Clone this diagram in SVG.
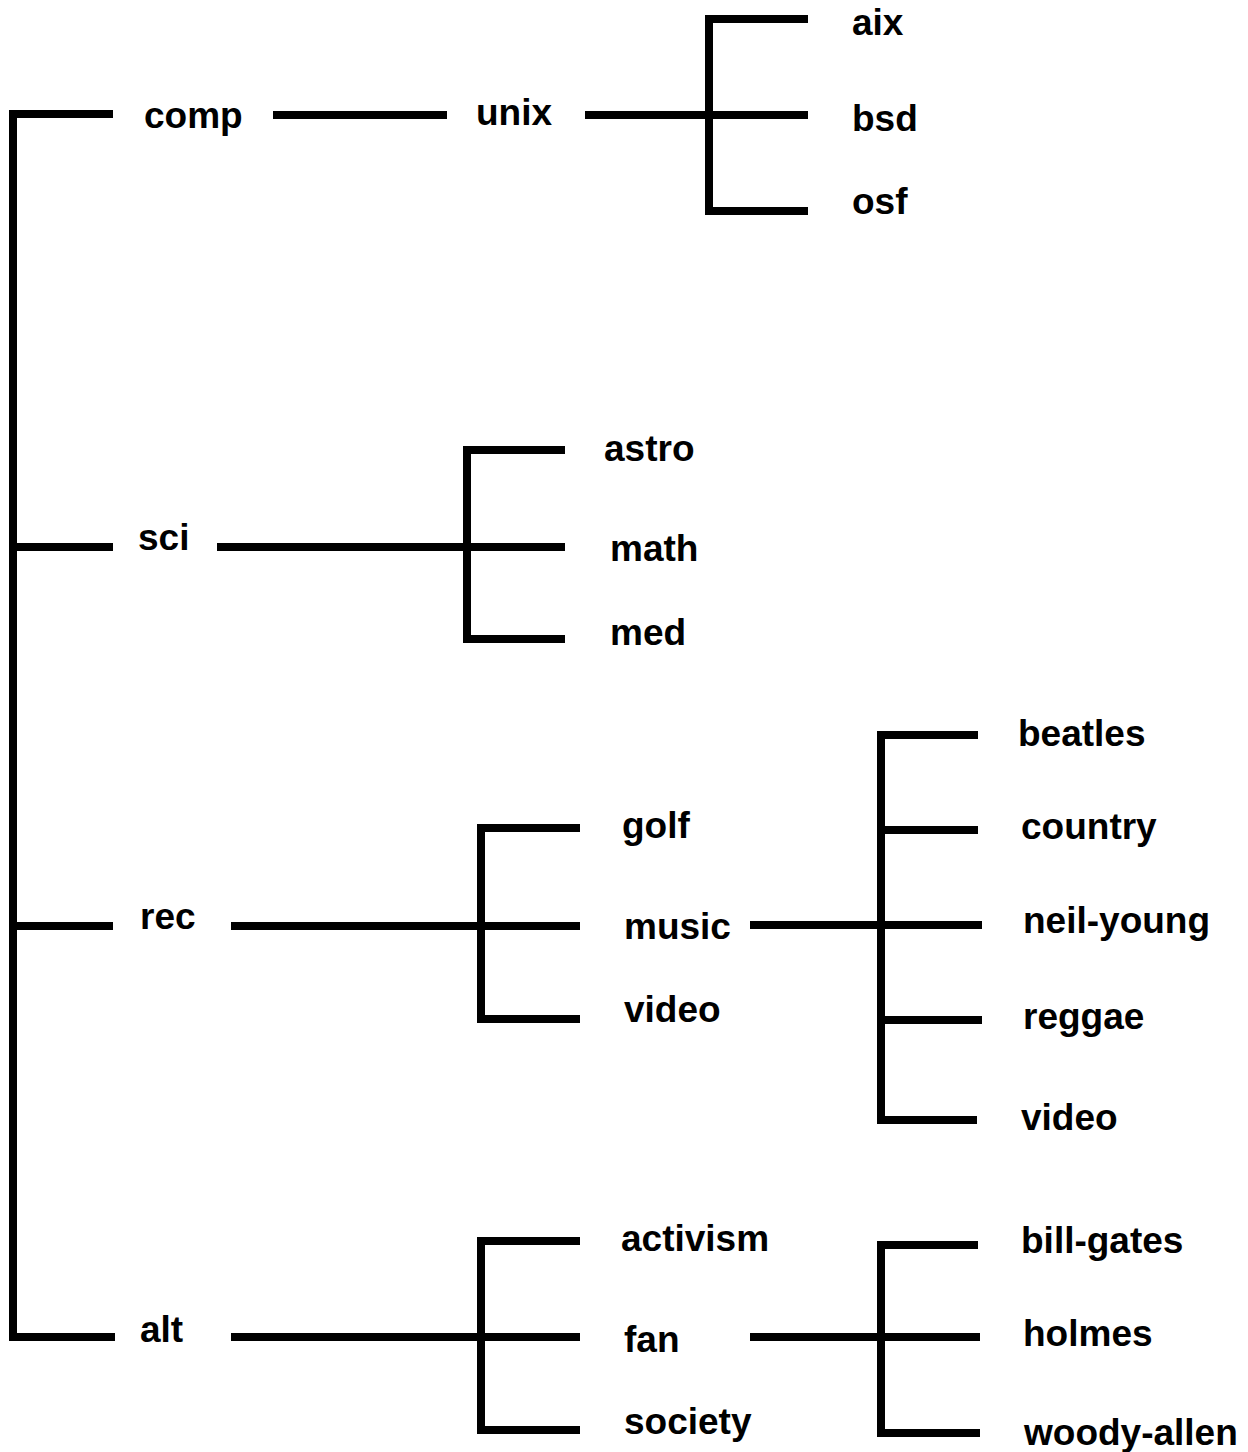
<svg xmlns="http://www.w3.org/2000/svg" width="1248" height="1452" viewBox="0 0 1248 1452">
<style>
.c{fill:none;stroke:#000;stroke-width:8;stroke-linejoin:miter;stroke-linecap:butt}
.t{font-family:"Liberation Sans",Arial,sans-serif;font-weight:bold;font-size:37px;fill:#000}
</style>
<rect width="1248" height="1452" fill="#fff"/>
<g id="connectors">
<path class="c" d="M113,114 H13 V1337 H115"/>
<path class="c" d="M13,547 H113"/>
<path class="c" d="M13,926 H113"/>
<path class="c" d="M273,115 H447"/>
<path class="c" d="M585,115 H808"/>
<path class="c" d="M808,19 H709 V211 H808"/>
<path class="c" d="M217,547 H565"/>
<path class="c" d="M565,450 H467 V639 H565"/>
<path class="c" d="M231,926 H580"/>
<path class="c" d="M580,828 H481 V1019 H580"/>
<path class="c" d="M750,925 H982"/>
<path class="c" d="M978,735 H881 V1120 H977"/>
<path class="c" d="M881,830 H978"/>
<path class="c" d="M881,1020 H982"/>
<path class="c" d="M231,1337 H580"/>
<path class="c" d="M580,1241 H481 V1430 H580"/>
<path class="c" d="M750,1337 H980"/>
<path class="c" d="M978,1245 H881 V1433 H980"/>
</g>
<g id="comp"><text class="t" x="144" y="128">comp</text></g>
<g id="unix"><text class="t" x="476" y="125">unix</text></g>
<g id="aix"><text class="t" x="852" y="35">aix</text></g>
<g id="bsd"><text class="t" x="852" y="131">bsd</text></g>
<g id="osf"><text class="t" x="852" y="214">osf</text></g>
<g id="sci"><text class="t" x="138" y="550">sci</text></g>
<g id="astro"><text class="t" x="604" y="461">astro</text></g>
<g id="math"><text class="t" x="610" y="561">math</text></g>
<g id="med"><text class="t" x="610" y="645">med</text></g>
<g id="rec"><text class="t" x="140" y="929">rec</text></g>
<g id="golf"><text class="t" x="622" y="838">golf</text></g>
<g id="music"><text class="t" x="624" y="939">music</text></g>
<g id="rec-video"><text class="t" x="624" y="1022">video</text></g>
<g id="beatles"><text class="t" x="1018" y="746">beatles</text></g>
<g id="country"><text class="t" x="1021" y="839">country</text></g>
<g id="neil-young"><text class="t" x="1023" y="933">neil-young</text></g>
<g id="reggae"><text class="t" x="1023" y="1029">reggae</text></g>
<g id="music-video"><text class="t" x="1021" y="1130">video</text></g>
<g id="alt"><text class="t" x="140" y="1342">alt</text></g>
<g id="activism"><text class="t" x="621" y="1251">activism</text></g>
<g id="fan"><text class="t" x="624" y="1352">fan</text></g>
<g id="society"><text class="t" x="624" y="1434">society</text></g>
<g id="bill-gates"><text class="t" x="1021" y="1253">bill-gates</text></g>
<g id="holmes"><text class="t" x="1023" y="1346">holmes</text></g>
<g id="woody-allen"><text class="t" x="1024" y="1445">woody-allen</text></g>
</svg>
